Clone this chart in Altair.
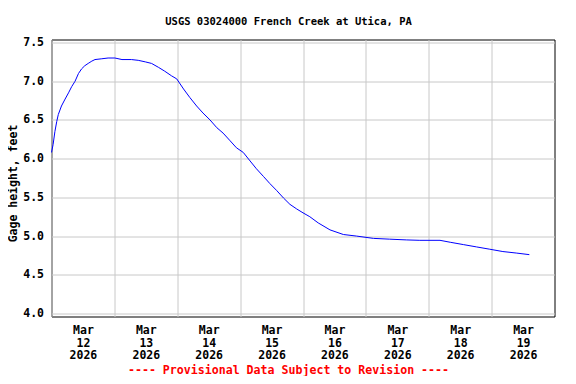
import altair as alt
import pandas as pd

# hours after 2026-03-12 00:00 and gage height (feet)
hours = [0.0, 0.6, 1.3, 2.0, 2.6, 3.8, 5.2, 6.5, 7.7, 9.0, 10.3, 11.5, 12.7, 14.0,
         15.4, 16.6, 19.2, 21.6, 24.2, 26.9, 30.5, 33.1, 35.8, 38.2, 40.8, 43.2,
         45.8, 47.8, 50.4, 52.8, 55.4, 57.8, 60.5, 63.1, 65.5, 68.2, 70.6, 73.2,
         75.8, 78.2, 80.9, 83.3, 85.9, 88.6, 91.0, 93.6, 96.0, 98.6, 101.8, 106.3,
         111.4, 116.4, 122.9, 129.1, 135.6, 140.6, 148.3, 152.2, 157.2, 162.2,
         167.3, 172.3, 177.6, 182.4]
gage = [6.08, 6.18, 6.35, 6.48, 6.57, 6.68, 6.77, 6.85, 6.93, 7.00, 7.10, 7.16, 7.20, 7.23,
        7.26, 7.28, 7.29, 7.30, 7.30, 7.28, 7.28, 7.27, 7.25, 7.23, 7.18, 7.13,
        7.07, 7.03, 6.90, 6.79, 6.68, 6.59, 6.50, 6.40, 6.33, 6.23, 6.14, 6.08,
        5.97, 5.87, 5.77, 5.68, 5.59, 5.49, 5.41, 5.35, 5.30, 5.25, 5.17, 5.08,
        5.02, 5.00, 4.97, 4.96, 4.95, 4.945, 4.945, 4.92, 4.89, 4.86,
        4.83, 4.80, 4.78, 4.76]
y_ticks = [4.0, 4.5, 5.0, 5.5, 6.0, 6.5, 7.0, 7.5]
day_ticks = [12, 13, 14, 15, 16, 17, 18, 19]

start = pd.Timestamp("2026-03-12T00:00:00Z")
df = pd.DataFrame({
    "time": [(start + pd.Timedelta(hours=h)).strftime("%Y-%m-%dT%H:%M:%SZ") for h in hours],
    "gage": gage,
})

FONT = "DejaVu Sans Mono"

x_values = [alt.DateTime(year=2026, month=3, date=d, hours=0, utc=True) for d in day_ticks]

chart = alt.Chart(df).mark_line(color="#0000ff", strokeWidth=1).encode(
    x=alt.X(
        "time:T",
        scale=alt.Scale(
            type="utc",
            domain=[alt.DateTime(year=2026, month=3, date=12, utc=True),
                    alt.DateTime(year=2026, month=3, date=20, utc=True)],
        ),
        axis=alt.Axis(
            values=x_values,
            labelExpr="[utcFormat(datum.value, '%b'), utcFormat(datum.value, '%d'), utcFormat(datum.value, '%Y')]",
            labelOffset=31.44,
            labelFont=FONT, labelFontWeight="bold", labelFontSize=11.5,
            labelColor="black", labelLineHeight=12.5, labelPadding=8,
            labelBaseline="top", labelAlign="center",
            ticks=False, domain=False,
            grid=True, gridColor="#c8c8c8", gridWidth=1,
            title="---- Provisional Data Subject to Revision ----",
            titleFont=FONT, titleFontWeight="bold", titleFontSize=11.6,
            titleColor="#ff0000", titleX=236.5, titleY=57,
            titleBaseline="alphabetic", titleAlign="center",
            labelFlush=False, labelOverlap=False,
        ),
    ),
    y=alt.Y(
        "gage:Q",
        scale=alt.Scale(domain=[3.961, 7.539], nice=False, zero=False),
        axis=alt.Axis(
            values=y_ticks, format=".1f",
            labelFont=FONT, labelFontWeight="bold", labelFontSize=11.5,
            labelColor="black", labelPadding=8,
            ticks=False, domain=False,
            grid=True, gridColor="#c8c8c8", gridWidth=1,
            title="Gage height, feet",
            titleFont=FONT, titleFontWeight="bold", titleFontSize=11.5,
            titleColor="black", titleX=-38.5, titleY=143.5, titleAngle=270,
            titleBaseline="middle", titleAlign="center",
            labelFlush=False, labelOverlap=False,
        ),
    ),
).properties(
    width=503,
    height=277,
    background="white",
    title=alt.TitleParams(
        "USGS 03024000 French Creek at Utica, PA",
        font=FONT, fontWeight="bold", fontSize=10.5, color="black",
        anchor="middle", dx=-14.5, offset=1.5, baseline="alphabetic",
    ),
    autosize=alt.AutoSizeParams(type="none"),
    padding={"left": 43.5, "top": 31.5, "right": 13.5, "bottom": 59.5},
).configure_view(
    stroke="black", strokeWidth=1,
)

chart.save("out.html", embed_options={"renderer": "svg", "actions": False})
